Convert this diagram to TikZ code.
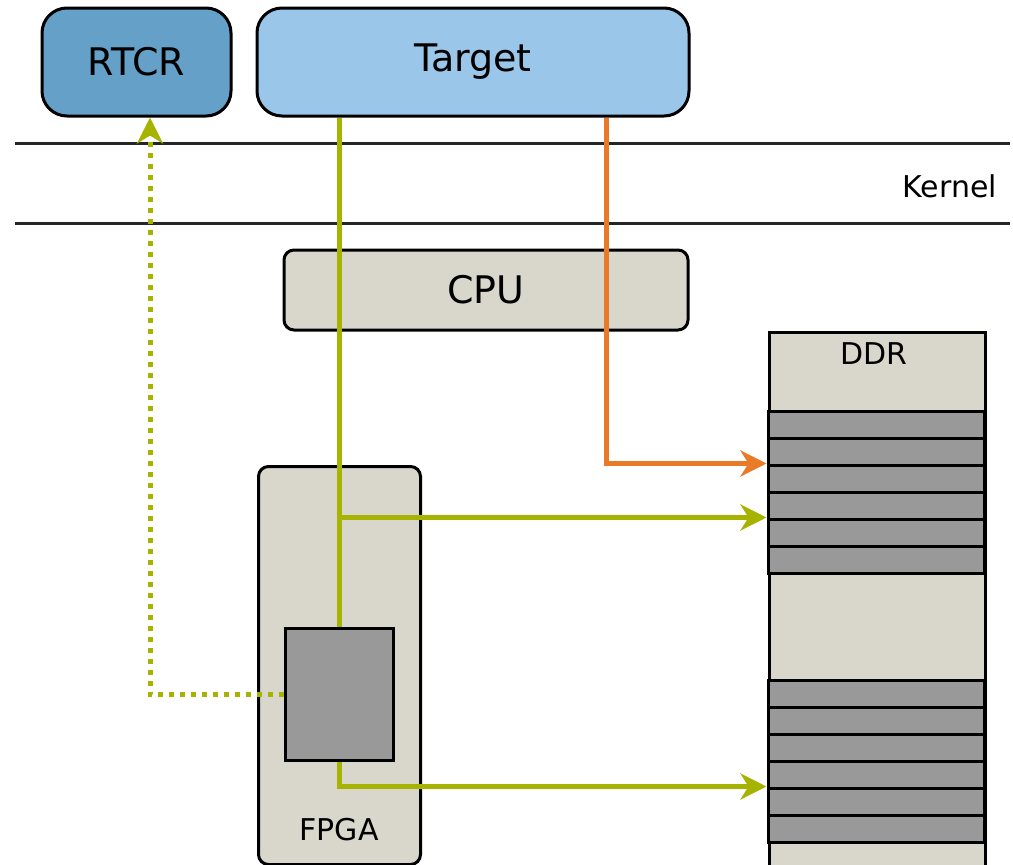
\documentclass[tikz,border=0pt]{standalone}
\usepackage{fontspec}
\setmainfont{DejaVu Sans}
\usetikzlibrary{arrows.meta}
\definecolor{rtcrblue}{HTML}{65A0C8}
\definecolor{targetblue}{HTML}{9AC6EA}
\definecolor{beige}{HTML}{D9D7CB}
\definecolor{cellgray}{HTML}{999999}
\definecolor{olive}{HTML}{A6B300}
\definecolor{flame}{HTML}{E87A28}
\begin{document}
\begin{tikzpicture}[x=1pt,y=-1pt,
  block/.style={draw=black, line width=3pt, inner sep=0pt},
  bigtext/.style={font=\fontsize{38}{45}\selectfont},
  smalltext/.style={font=\fontsize{30}{36}\selectfont},
  cell/.style={draw=black, line width=3pt, fill=cellgray, inner sep=0pt,
    minimum width=216pt, minimum height=27pt},
  wire/.style={line width=5pt},
  link/.style={wire, -{Stealth[length=26pt,width=26pt,inset=8pt]}},
  dotlink/.style={link, dash pattern=on 5pt off 6pt}]
\useasboundingbox (0,0) rectangle (1013,865);

% user-space processes
\node[block, bigtext, fill=rtcrblue, rounded corners=25pt,
  minimum width=189pt, minimum height=108pt] (rtcr) at (136.5,62) {RTCR};
\node[block, bigtext, fill=targetblue, rounded corners=25pt,
  minimum width=432pt, minimum height=108pt] (target) at (473,62) {Target};

% kernel band
\draw[line width=3pt, black!85] (15,143) -- (1010,143);
\draw[line width=3pt, black!85] (15,223) -- (1010,223);
\node[smalltext, anchor=east, inner sep=0pt] (kernel) at (997,186) {Kernel};

% hardware
\node[block, bigtext, fill=beige, rounded corners=10pt,
  minimum width=404pt, minimum height=80pt] (cpu) at (486,290) {CPU};

\node[block, fill=beige, minimum width=216pt, minimum height=560pt,
  anchor=north west] (ddr) at (768,331) {};
\node[smalltext] (ddrlabel) at (874,354) {DDR};
\foreach \i in {0,...,5} {
  \node[cell] (ddrA\i) at (876,424.5+27*\i) {};
  \node[cell] (ddrB\i) at (876,693.5+27*\i) {};
}

\node[block, fill=beige, rounded corners=10pt, minimum width=162pt,
  minimum height=398pt, anchor=north west] (fpga) at (257,465) {};
\node[smalltext] (fpgalabel) at (339,830) {FPGA};
\node[block, fill=cellgray, minimum width=108pt, minimum height=132pt,
  anchor=north west] (core) at (284,627) {};

% data paths
\coordinate (dotx) at (150,0);
\coordinate (orx) at (606,0);
\draw[wire, olive] (target.south -| core.north) -- (core.north);
\draw[link, olive] (core.north |- ddrA4.north west) -- (ddrA4.north west);
\draw[link, olive] (core.south) |- (ddrB4.north west);
\draw[link, flame] (target.south -| orx) |- (ddrA2.north west);
\draw[dotlink, olive] (core.west) -| (rtcr.south -| dotx);
\end{tikzpicture}
\end{document}
